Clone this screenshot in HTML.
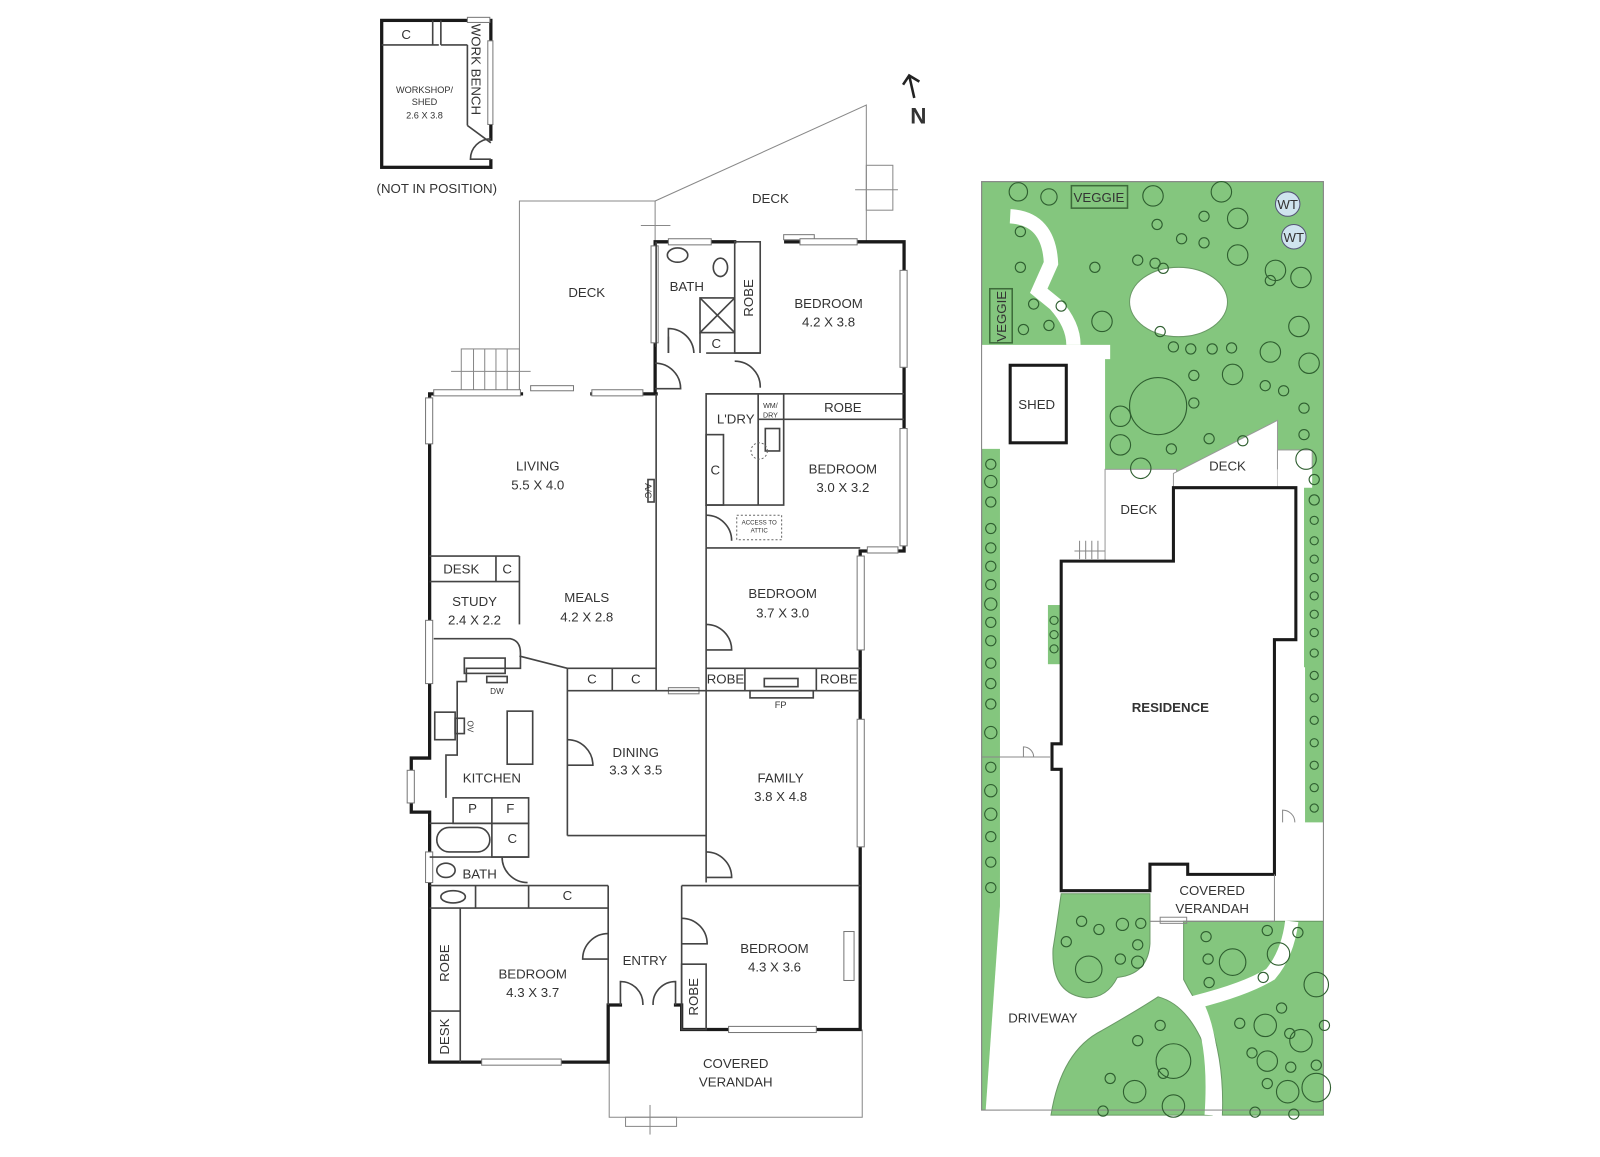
<!DOCTYPE html>
<html><head><meta charset="utf-8"><style>
html,body{margin:0;padding:0;background:#fff;width:1600px;height:1157px;overflow:hidden}
svg{display:block}
text{font-family:"Liberation Sans",sans-serif;fill:#333;text-anchor:middle}
.w{stroke:#1a1a1a;stroke-width:3.2;fill:none;stroke-linecap:square}
.i{stroke:#444;stroke-width:1.6;fill:none}
.g{stroke:#888;stroke-width:1;fill:none}
.win{fill:#fff;stroke:#777;stroke-width:1}
.t{font-size:13px}
.s{font-size:9px}
.sh{fill:none;stroke:#2f5f30;stroke-width:1.1}
</style></head><body>
<svg width="1600" height="1157" viewBox="0 0 1568 1134" xmlns="http://www.w3.org/2000/svg">
<!-- ============ GARDEN ============ -->
<rect x="962" y="178" width="335" height="910" fill="#84c67e" stroke="#888" stroke-width="1"/>
<path d="M990,212 Q1028,214 1030,258 L1018,285 L1034,298 Q1052,318 1052,338" stroke="#fff" stroke-width="14" fill="none"/>
<ellipse cx="1155" cy="296" rx="48" ry="34" fill="#fff" stroke="#6a9a66" stroke-width="1"/>
<polygon points="962,338 1088,338 1088,352 1083,352 1083,876 980,876 980,440 962,440" fill="#fff"/>
<rect x="1083" y="460" width="70" height="92" fill="#fff" stroke="#999" stroke-width="1"/>
<polygon points="1150,464 1252,412 1252,478 1150,478" fill="#fff" stroke="#999" stroke-width="1"/>
<rect x="1252" y="441" width="34" height="20" fill="#fff" stroke="#999" stroke-width="1"/>
<polygon points="1252,460 1286,460 1286,478 1278,478 1278,654 1279,654 1279,806 1297,806 1297,903 1248,903 1248,478 1252,478" fill="#fff"/>
<rect x="980" y="860" width="317" height="233" fill="#fff"/>
<rect x="1125" y="838" width="126" height="66" fill="#fff"/>
<polygon points="980,888 981,1088 966,1088" fill="#fff"/>
<rect x="1027" y="593" width="13" height="58" fill="#84c67e"/>
<!-- bottom blobs -->
<path d="M1040,876 L1127,876 L1127,925 Q1125,955 1095,958 Q1085,978 1065,978 Q1030,975 1032,930 Q1036,905 1040,876 Z" fill="#84c67e" stroke="#6a9a66"/>
<path d="M1030,1093 Q1040,1030 1080,1010 Q1115,990 1135,977 Q1165,985 1182,1030 Q1190,1060 1188,1093 Z" fill="#84c67e" stroke="#6a9a66"/>
<path d="M1160,903 L1297,903 L1297,1093 L1198,1093 Q1200,1040 1185,1000 Q1170,980 1160,960 Z" fill="#84c67e" stroke="#6a9a66"/>
<path d="M1187,1093 Q1192,1020 1172,982 Q1220,970 1245,955 Q1262,935 1266,903" stroke="#fff" stroke-width="13" fill="none"/>
<rect x="962" y="178" width="335" height="910" fill="none" stroke="#888" stroke-width="1"/>
<!-- hedges -->
<g class="sh">
<circle cx="971" cy="455" r="5"/><circle cx="971" cy="472" r="6"/><circle cx="971" cy="492" r="5"/><circle cx="971" cy="518" r="5"/><circle cx="971" cy="537" r="5"/><circle cx="971" cy="555" r="5"/><circle cx="971" cy="573" r="5"/><circle cx="971" cy="592" r="6"/><circle cx="971" cy="610" r="5"/><circle cx="971" cy="628" r="5"/><circle cx="971" cy="650" r="5"/><circle cx="971" cy="670" r="5"/><circle cx="971" cy="690" r="5"/><circle cx="971" cy="718" r="6"/><circle cx="971" cy="752" r="5"/><circle cx="971" cy="775" r="6"/><circle cx="971" cy="798" r="6"/><circle cx="971" cy="820" r="5"/><circle cx="971" cy="845" r="5"/><circle cx="971" cy="870" r="5"/>
<circle cx="1033" cy="608" r="4"/><circle cx="1033" cy="622" r="4"/><circle cx="1033" cy="636" r="4"/>
<circle cx="1288" cy="470" r="5"/><circle cx="1288" cy="490" r="5"/><circle cx="1288" cy="510" r="4"/><circle cx="1288" cy="530" r="4"/><circle cx="1288" cy="548" r="4"/><circle cx="1288" cy="566" r="4"/><circle cx="1288" cy="584" r="4"/><circle cx="1288" cy="602" r="4"/><circle cx="1288" cy="620" r="4"/><circle cx="1288" cy="640" r="4"/><circle cx="1288" cy="662" r="4"/><circle cx="1288" cy="684" r="4"/><circle cx="1288" cy="706" r="4"/><circle cx="1288" cy="728" r="4"/><circle cx="1288" cy="750" r="4"/><circle cx="1288" cy="772" r="4"/><circle cx="1288" cy="792" r="4"/>
<circle cx="998" cy="188" r="9"/><circle cx="1028" cy="193" r="8"/><circle cx="1000" cy="227" r="5"/><circle cx="1000" cy="262" r="5"/><circle cx="1003" cy="323" r="5"/><circle cx="1028" cy="319" r="5"/><circle cx="1013" cy="298" r="5"/><circle cx="1040" cy="300" r="5"/>
<circle cx="1130" cy="192" r="10"/><circle cx="1197" cy="188" r="10"/><circle cx="1213" cy="214" r="10"/><circle cx="1213" cy="250" r="10"/><circle cx="1250" cy="265" r="10"/><circle cx="1275" cy="272" r="10"/><circle cx="1273" cy="320" r="10"/><circle cx="1245" cy="345" r="10"/><circle cx="1283" cy="356" r="10"/><circle cx="1208" cy="367" r="10"/><circle cx="1080" cy="315" r="10"/><circle cx="1098" cy="408" r="10"/><circle cx="1098" cy="436" r="10"/><circle cx="1118" cy="459" r="10"/><circle cx="1280" cy="450" r="10"/>
<circle cx="1180" cy="212" r="5"/><circle cx="1134" cy="220" r="5"/><circle cx="1158" cy="234" r="5"/><circle cx="1180" cy="238" r="5"/><circle cx="1115" cy="255" r="5"/><circle cx="1132" cy="258" r="5"/><circle cx="1140" cy="263" r="5"/><circle cx="1073" cy="262" r="5"/><circle cx="1137" cy="325" r="5"/><circle cx="1167" cy="342" r="5"/><circle cx="1188" cy="342" r="5"/><circle cx="1207" cy="341" r="5"/><circle cx="1150" cy="340" r="5"/><circle cx="1245" cy="275" r="5"/><circle cx="1240" cy="378" r="5"/><circle cx="1258" cy="383" r="5"/><circle cx="1278" cy="400" r="5"/><circle cx="1278" cy="426" r="5"/><circle cx="1170" cy="368" r="5"/><circle cx="1170" cy="395" r="5"/><circle cx="1185" cy="430" r="5"/><circle cx="1218" cy="432" r="5"/><circle cx="1148" cy="440" r="5"/>
<circle cx="1135" cy="398" r="28"/>
<circle cx="1060" cy="903" r="5"/><circle cx="1077" cy="911" r="5"/><circle cx="1100" cy="906" r="6"/><circle cx="1118" cy="905" r="5"/><circle cx="1045" cy="923" r="5"/><circle cx="1115" cy="926" r="5"/><circle cx="1098" cy="940" r="5"/><circle cx="1115" cy="943" r="6"/><circle cx="1067" cy="950" r="13"/>
<circle cx="1182" cy="918" r="5"/><circle cx="1242" cy="912" r="5"/><circle cx="1272" cy="914" r="5"/><circle cx="1184" cy="940" r="5"/><circle cx="1208" cy="943" r="13"/><circle cx="1253" cy="935" r="11"/><circle cx="1238" cy="958" r="5"/><circle cx="1185" cy="963" r="5"/><circle cx="1290" cy="965" r="12"/>
<circle cx="1256" cy="988" r="5"/><circle cx="1215" cy="1003" r="5"/><circle cx="1240" cy="1005" r="11"/><circle cx="1264" cy="1013" r="5"/><circle cx="1275" cy="1020" r="11"/><circle cx="1298" cy="1005" r="5"/><circle cx="1227" cy="1032" r="5"/><circle cx="1242" cy="1040" r="10"/><circle cx="1265" cy="1046" r="5"/><circle cx="1290" cy="1044" r="5"/><circle cx="1242" cy="1062" r="5"/><circle cx="1262" cy="1070" r="11"/><circle cx="1290" cy="1066" r="14"/><circle cx="1230" cy="1090" r="5"/><circle cx="1268" cy="1092" r="5"/>
<circle cx="1137" cy="1005" r="5"/><circle cx="1115" cy="1020" r="5"/><circle cx="1150" cy="1040" r="17"/><circle cx="1140" cy="1052" r="5"/><circle cx="1088" cy="1057" r="5"/><circle cx="1112" cy="1070" r="11"/><circle cx="1150" cy="1084" r="11"/><circle cx="1081" cy="1089" r="5"/>
</g>
<circle cx="1262" cy="200" r="12" fill="#cfe4ee" stroke="#557" stroke-width="1"/>
<circle cx="1268" cy="232" r="12" fill="#cfe4ee" stroke="#557" stroke-width="1"/>
<text x="1262" y="205" class="t">WT</text><text x="1268" y="237" class="t">WT</text>
<rect x="1050" y="182" width="55" height="22" fill="none" stroke="#3d6b3a" stroke-width="1.5"/>
<text x="1077" y="198" class="t">VEGGIE</text>
<rect x="970" y="283" width="22" height="53" fill="none" stroke="#3d6b3a" stroke-width="1.5"/>
<text transform="translate(986,310) rotate(-90)" class="t">VEGGIE</text>
<rect x="990" y="358" width="55" height="76" fill="#fff" stroke="#1a1a1a" stroke-width="3"/>
<text x="1016" y="401" class="t">SHED</text>
<polygon points="1040,550 1150,550 1150,478 1270,478 1270,627 1249,627 1249,857 1164,857 1164,847 1127,847 1127,873 1040,873 1040,754 1031,754 1031,729 1040,729" fill="#fff" stroke="#1a1a1a" stroke-width="3"/>
<line x1="1249" y1="857" x2="1249" y2="903" class="g"/>
<line x1="1127" y1="903" x2="1249" y2="903" class="g"/>
<text x="1147" y="698" class="t" font-weight="bold">RESIDENCE</text>
<text x="1116" y="504" class="t">DECK</text><text x="1203" y="461" class="t">DECK</text>
<text x="1188" y="877" class="t">COVERED</text><text x="1188" y="895" class="t">VERANDAH</text>
<text x="1022" y="1002" class="t">DRIVEWAY</text>
<g class="g"><line x1="1053" y1="540" x2="1083" y2="540"/><line x1="1058" y1="530" x2="1058" y2="548"/><line x1="1064" y1="530" x2="1064" y2="548"/><line x1="1070" y1="530" x2="1070" y2="548"/><line x1="1076" y1="530" x2="1076" y2="548"/>
<line x1="962" y1="742" x2="1030" y2="742"/><path d="M1003,742 L1003,732 A10,10 0 0 1 1013,742"/><path d="M1257,806 L1257,794 A12,12 0 0 1 1269,806"/>
<rect x="1137" y="899" width="26" height="6"/></g>
<!-- ============ SHED (top left) ============ -->
<rect x="374" y="20" width="107" height="144" class="w"/>
<rect x="458" y="17" width="22" height="5" class="win"/><rect x="478" y="40" width="5" height="82" class="win"/>
<line x1="481" y1="138" x2="481" y2="156" stroke="#fff" stroke-width="5"/>
<path d="M481,156 L461,156 A20,20 0 0 1 481,136" class="i"/>
<g class="i"><line x1="374" y1="44" x2="430" y2="44"/><line x1="424" y1="20" x2="424" y2="44"/><line x1="432" y1="20" x2="432" y2="44"/><line x1="432" y1="44" x2="458" y2="44"/><line x1="458" y1="44" x2="458" y2="123"/><line x1="458" y1="123" x2="481" y2="140"/></g>
<text x="398" y="38" class="t">C</text>
<text x="416" y="91" class="s">WORKSHOP/</text><text x="416" y="103" class="s">SHED</text><text x="416" y="116" class="s">2.6 X 3.8</text>
<text transform="translate(462,68) rotate(90)" class="t">WORK BENCH</text>
<text x="428" y="189" class="t">(NOT IN POSITION)</text>
<path d="M896,96 L891,74 M885,83 L891,74 L901,80" stroke="#222" stroke-width="2.5" fill="none"/>
<text x="900" y="121" style="font-size:22px;font-weight:bold">N</text>
<!-- ============ HOUSE ============ -->
<g class="g">
<polyline points="509,385 509,197 642,197 642,240"/>
<polyline points="642,197 849,103 849,237"/>
<rect x="849" y="162" width="26" height="44"/><line x1="838" y1="186" x2="880" y2="186"/>
<line x1="628" y1="221" x2="657" y2="221"/>
<rect x="452" y="342" width="57" height="43"/><line x1="464" y1="342" x2="464" y2="385"/><line x1="475" y1="342" x2="475" y2="385"/><line x1="486" y1="342" x2="486" y2="385"/><line x1="497" y1="342" x2="497" y2="385"/><line x1="442" y1="364" x2="520" y2="364"/>
<polyline points="597,1041 597,1095 845,1095 845,1009"/>
<rect x="613" y="1095" width="50" height="9"/><line x1="637" y1="1083" x2="637" y2="1112"/>
</g>
<path class="w" d="M421,386 L421,743 L403,743 L403,796 L421,796 L421,1041 L596,1041 L596,985 L608,985 M662,985 L668,985 L668,1009 L843,1009 L843,540 L886,540 L886,237 L840,237 M784,237 L770,237 M720,237 L655,237 L642,237 L642,386 L643,386 M421,386 L511,386 M580,386 L643,386"/>
<g>
<rect x="417" y="390" width="7" height="45" class="win"/><rect x="425" y="382" width="85" height="6" class="win"/><rect x="520" y="378" width="42" height="5" class="win"/><rect x="580" y="382" width="50" height="6" class="win"/>
<rect x="638" y="241" width="7" height="95" class="win"/><rect x="655" y="234" width="42" height="6" class="win"/><rect x="768" y="230" width="30" height="5" class="win"/><rect x="784" y="234" width="56" height="6" class="win"/>
<rect x="882" y="265" width="7" height="95" class="win"/><rect x="882" y="420" width="7" height="115" class="win"/><rect x="840" y="545" width="7" height="92" class="win"/><rect x="840" y="705" width="7" height="125" class="win"/><rect x="850" y="536" width="30" height="6" class="win"/>
<rect x="417" y="608" width="7" height="62" class="win"/><rect x="399" y="755" width="7" height="32" class="win"/><rect x="417" y="835" width="7" height="30" class="win"/>
<rect x="472" y="1038" width="78" height="6" class="win"/><rect x="714" y="1006" width="86" height="6" class="win"/>
<rect x="655" y="674" width="30" height="6" class="win"/><rect x="827" y="913" width="10" height="48" class="win"/>
</g>
<g class="i">
<line x1="643" y1="386" x2="643" y2="677"/>
<line x1="643" y1="237" x2="643" y2="340"/><line x1="655" y1="330" x2="655" y2="346"/>
<line x1="692" y1="346" x2="745" y2="346"/>
<rect x="720" y="237" width="25" height="109"/>
<rect x="686" y="292" width="34" height="34"/><line x1="686" y1="292" x2="720" y2="326"/><line x1="720" y1="292" x2="686" y2="326"/>
<line x1="686" y1="326" x2="686" y2="346"/>
<path d="M655,346 L655,322 A25,25 0 0 1 680,346"/>
<path d="M642,356 A25,25 0 0 1 667,381 L642,381"/>
<path d="M720,354 A25,25 0 0 1 745,380"/>
<line x1="692" y1="386" x2="886" y2="386"/>
<line x1="768" y1="411" x2="886" y2="411"/>
<rect x="692" y="386" width="76" height="109"/>
<line x1="743" y1="386" x2="743" y2="495"/><line x1="743" y1="411" x2="768" y2="411"/>
<rect x="692" y="426" width="17" height="69"/>
<line x1="692" y1="495" x2="692" y2="537"/><path d="M692,505 A25,25 0 0 1 717,530"/>
<line x1="692" y1="537" x2="843" y2="537"/>
<line x1="692" y1="537" x2="692" y2="865"/>
<path d="M692,612 A25,25 0 0 1 717,637 L692,637"/>
<line x1="692" y1="655" x2="843" y2="655"/><line x1="692" y1="677" x2="843" y2="677"/>
<line x1="730" y1="655" x2="730" y2="677"/><line x1="800" y1="655" x2="800" y2="677"/>
<rect x="749" y="665" width="33" height="8"/><rect x="735" y="677" width="62" height="7"/>
<line x1="556" y1="655" x2="643" y2="655"/><line x1="556" y1="677" x2="692" y2="677"/>
<line x1="600" y1="655" x2="600" y2="677"/>
<line x1="556" y1="655" x2="556" y2="819"/><line x1="556" y1="819" x2="692" y2="819"/>
<path d="M556,725 A25,25 0 0 1 581,750 L556,750"/>
<path d="M692,835 A25,25 0 0 1 717,860 L692,860"/>
<line x1="509" y1="545" x2="509" y2="612"/>
<line x1="421" y1="545" x2="509" y2="545"/><line x1="421" y1="570" x2="509" y2="570"/><line x1="486" y1="545" x2="486" y2="570"/>
<line x1="509" y1="643" x2="556" y2="655"/>
<path d="M425,626 L500,626 Q510,628 510,640 L510,655 L457,655 L457,668 L448,668 L448,740 L437,740 L437,782"/>
<rect x="455" y="645" width="40" height="15"/><rect x="477" y="663" width="20" height="6"/>
<rect x="426" y="698" width="20" height="27"/><rect x="446" y="704" width="9" height="15"/>
<rect x="497" y="697" width="25" height="52"/>
<rect x="444" y="782" width="74" height="25"/><line x1="482" y1="782" x2="482" y2="807"/>
<rect x="482" y="807" width="36" height="33"/>
<line x1="421" y1="807" x2="482" y2="807"/><line x1="421" y1="840" x2="518" y2="840"/>
<rect x="428" y="811" width="52" height="24" rx="12"/>
<ellipse cx="437" cy="853" rx="9" ry="7"/>
<path d="M492,840 A25,25 0 0 0 517,865"/>
<line x1="421" y1="868" x2="596" y2="868"/><line x1="421" y1="890" x2="596" y2="890"/>
<line x1="466" y1="868" x2="466" y2="890"/><line x1="518" y1="868" x2="518" y2="890"/>
<ellipse cx="444" cy="879" rx="12" ry="6"/>
<line x1="596" y1="868" x2="596" y2="985"/>
<path d="M596,915 A25,25 0 0 0 571,940 L596,940"/>
<line x1="451" y1="890" x2="451" y2="1041"/><line x1="421" y1="991" x2="451" y2="991"/>
<line x1="668" y1="868" x2="843" y2="868"/><line x1="668" y1="868" x2="668" y2="985"/>
<path d="M668,900 A25,25 0 0 1 693,925 L668,925"/>
<rect x="668" y="945" width="24" height="64"/>
<path d="M608,985 L608,962 A22,22 0 0 1 630,985"/><path d="M662,985 L662,962 A22,22 0 0 0 640,985"/>
<ellipse cx="664" cy="250" rx="10" ry="7"/><ellipse cx="706" cy="262" rx="7" ry="9"/>
<rect x="750" y="420" width="14" height="22"/>
<rect x="635" y="470" width="6" height="22"/>
</g>
<g stroke="#666" stroke-dasharray="2,2" fill="none"><rect x="722" y="505" width="44" height="24"/><circle cx="744" cy="442" r="8"/></g>
<g class="t">
<text x="575" y="291" class="t">DECK</text><text x="755" y="199" class="t">DECK</text>
<text x="673" y="285" class="t">BATH</text>
<text transform="translate(738,292) rotate(-90)" class="t">ROBE</text>
<text x="702" y="341" class="t">C</text>
<text x="812" y="302" class="t">BEDROOM</text><text x="812" y="320" class="t">4.2 X 3.8</text>
<text x="721" y="415" class="t">L'DRY</text>
<text x="755" y="400" style="font-size:7px">WM/</text><text x="755" y="409" style="font-size:7px">DRY</text>
<text x="826" y="404" class="t">ROBE</text>
<text x="701" y="465" class="t">C</text>
<text x="744" y="514" style="font-size:6px">ACCESS TO</text><text x="744" y="522" style="font-size:6px">ATTIC</text>
<text x="826" y="464" class="t">BEDROOM</text><text x="826" y="482" class="t">3.0 X 3.2</text>
<text x="527" y="461" class="t">LIVING</text><text x="527" y="480" class="t">5.5 X 4.0</text>
<text transform="translate(632,481) rotate(90)" style="font-size:9px">A/C</text>
<text x="452" y="562" class="t">DESK</text><text x="497" y="562" class="t">C</text>
<text x="465" y="594" class="t">STUDY</text><text x="465" y="612" class="t">2.4 X 2.2</text>
<text x="575" y="590" class="t">MEALS</text><text x="575" y="609" class="t">4.2 X 2.8</text>
<text x="767" y="586" class="t">BEDROOM</text><text x="767" y="605" class="t">3.7 X 3.0</text>
<text x="580" y="670" class="t">C</text><text x="623" y="670" class="t">C</text>
<text x="711" y="670" class="t">ROBE</text><text x="822" y="670" class="t">ROBE</text>
<text x="765" y="694" style="font-size:9px">FP</text>
<text x="487" y="680" style="font-size:8px">DW</text>
<text transform="translate(458,712) rotate(90)" style="font-size:8px">OV</text>
<text x="623" y="742" class="t">DINING</text><text x="623" y="759" class="t">3.3 X 3.5</text>
<text x="765" y="767" class="t">FAMILY</text><text x="765" y="785" class="t">3.8 X 4.8</text>
<text x="482" y="767" class="t">KITCHEN</text>
<text x="463" y="797" class="t">P</text><text x="500" y="797" class="t">F</text>
<text x="502" y="826" class="t">C</text>
<text x="470" y="861" class="t">BATH</text>
<text x="556" y="882" class="t">C</text>
<text transform="translate(440,944) rotate(-90)" class="t">ROBE</text>
<text transform="translate(440,1016) rotate(-90)" class="t">DESK</text>
<text x="522" y="959" class="t">BEDROOM</text><text x="522" y="977" class="t">4.3 X 3.7</text>
<text x="632" y="946" class="t">ENTRY</text>
<text transform="translate(684,977) rotate(-90)" class="t">ROBE</text>
<text x="759" y="934" class="t">BEDROOM</text><text x="759" y="952" class="t">4.3 X 3.6</text>
<text x="721" y="1047" class="t">COVERED</text><text x="721" y="1065" class="t">VERANDAH</text>
</g>
</svg>
</body></html>
